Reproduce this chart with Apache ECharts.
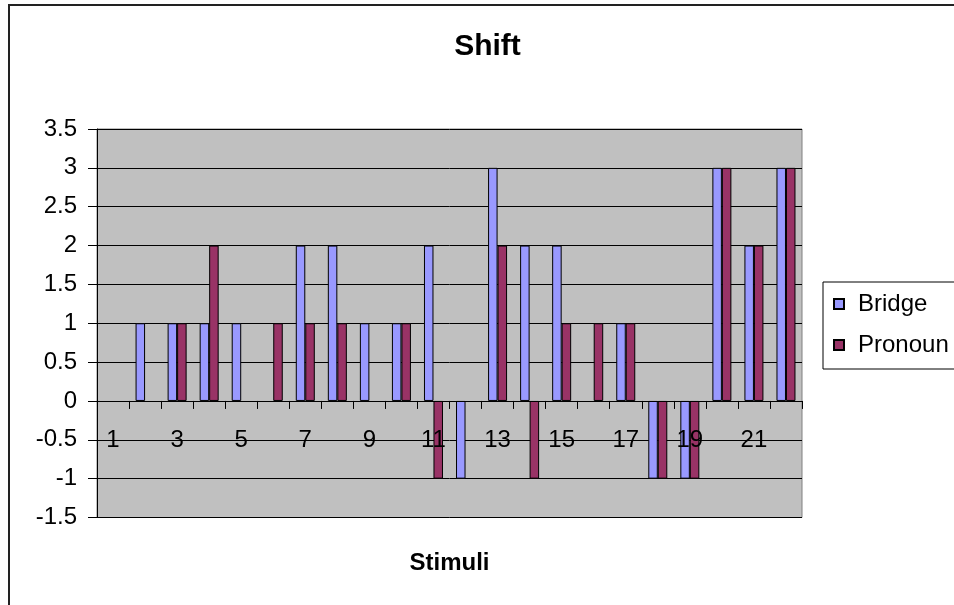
<!DOCTYPE html>
<html>
<head>
<meta charset="utf-8">
<script src="https://cdn.jsdelivr.net/npm/echarts@6/dist/echarts.min.js"></script>
<style>
  html, body { margin: 0; padding: 0; background: #fff; }
  #chart { width: 954px; height: 605px; }
</style>
</head>
<body>
<div id="chart"></div>
<script>
// Stimulus numbers along the category axis
const stimuli = ['1','2','3','4','5','6','7','8','9','10','11','12','13','14','15','16','17','18','19','20','21','22'];
// Shift scores per stimulus
const bridge  = [0, 1, 1, 1, 1, 0, 2, 2, 1, 1, 2, -1, 3, 2, 2, 0, 1, -1, -1, 3, 2, 3];
const pronoun = [0, 0, 1, 2, 0, 1, 1, 1, 0, 1, -1, 0, 2, -1, 1, 1, 1, -1, -1, 3, 2, 3];
// Value axis range and step
const yMin = -1.5, yMax = 3.5, yStep = 0.5;

const FONT = '"Liberation Sans", Arial, sans-serif';

// Plot area geometry
const W = 954, H = 605;
const gridTop = 129, gridBottom = 87.5, gridLeft = 97, gridRight = 152;
const plotH = H - gridTop - gridBottom;
// Distance from the plot's bottom edge up to the zero line (the category axis sits there)
const zeroLift = plotH * (0 - yMin) / (yMax - yMin);

// Zero-height bars keep their value but draw no outline
const withFlatZeros = arr => arr.map(v => v === 0 ? { value: 0, itemStyle: { borderWidth: 0 } } : v);

const chart = echarts.init(document.getElementById('chart'), null, { renderer: 'canvas' });

chart.setOption({
  animation: false,
  backgroundColor: '#ffffff',
  textStyle: { fontFamily: FONT, color: '#000' },
  graphic: [
    {
      type: 'rect',
      shape: { x: 9, y: 5, width: 1000, height: 700 },
      style: { fill: 'none', stroke: '#222', lineWidth: 2 },
      silent: true
    },
    {
      type: 'text',
      x: 487.5, y: 47,
      style: {
        text: 'Shift', fontFamily: FONT, fontWeight: 'bold', fontSize: 30,
        fill: '#000', textAlign: 'center', textVerticalAlign: 'middle'
      }
    },
    {
      type: 'text',
      x: 449.5, y: 563,
      style: {
        text: 'Stimuli', fontFamily: FONT, fontWeight: 'bold', fontSize: 24,
        fill: '#000', textAlign: 'center', textVerticalAlign: 'middle'
      }
    }
  ],
  grid: {
    left: gridLeft, top: gridTop, right: gridRight, bottom: gridBottom,
    show: true, backgroundColor: '#c0c0c0', borderColor: '#808080', borderWidth: 1
  },
  legend: {
    orient: 'vertical',
    left: 823, top: 282,
    padding: [10, 10, 12, 10],
    borderColor: '#000', borderWidth: 1,
    itemWidth: 10, itemHeight: 10, itemGap: 17,
    icon: 'rect',
    textStyle: { fontFamily: FONT, fontSize: 24, color: '#000', lineHeight: 22, padding: [0, 0, 0, 9] },
    data: ['Bridge', 'Pronoun']
  },
  xAxis: {
    type: 'category',
    data: stimuli,
    position: 'bottom',
    offset: -zeroLift,
    z: 5,
    axisLine: { onZero: false, lineStyle: { color: '#000', width: 1 } },
    axisTick: { show: true, interval: 0, length: 8, lineStyle: { color: '#000' } },
    axisLabel: { interval: 1, fontSize: 24, color: '#000', margin: 27, fontFamily: FONT },
    splitLine: { show: false }
  },
  yAxis: {
    type: 'value',
    min: yMin, max: yMax, interval: yStep,
    axisLine: { show: true, lineStyle: { color: '#000', width: 1 } },
    axisTick: { show: true, length: 9, lineStyle: { color: '#000' } },
    axisLabel: { fontSize: 24, color: '#000', margin: 20, fontFamily: FONT },
    splitLine: { show: true, lineStyle: { color: '#000', width: 1 } }
  },
  series: [
    {
      name: 'Bridge', type: 'bar', data: withFlatZeros(bridge),
      barWidth: 9.5, barGap: '0%',
      itemStyle: { color: '#9999ff', borderColor: '#000', borderWidth: 1 }
    },
    {
      name: 'Pronoun', type: 'bar', data: withFlatZeros(pronoun),
      barWidth: 9.5, barGap: '0%',
      itemStyle: { color: '#993366', borderColor: '#000', borderWidth: 1 }
    }
  ]
});
</script>
</body>
</html>
